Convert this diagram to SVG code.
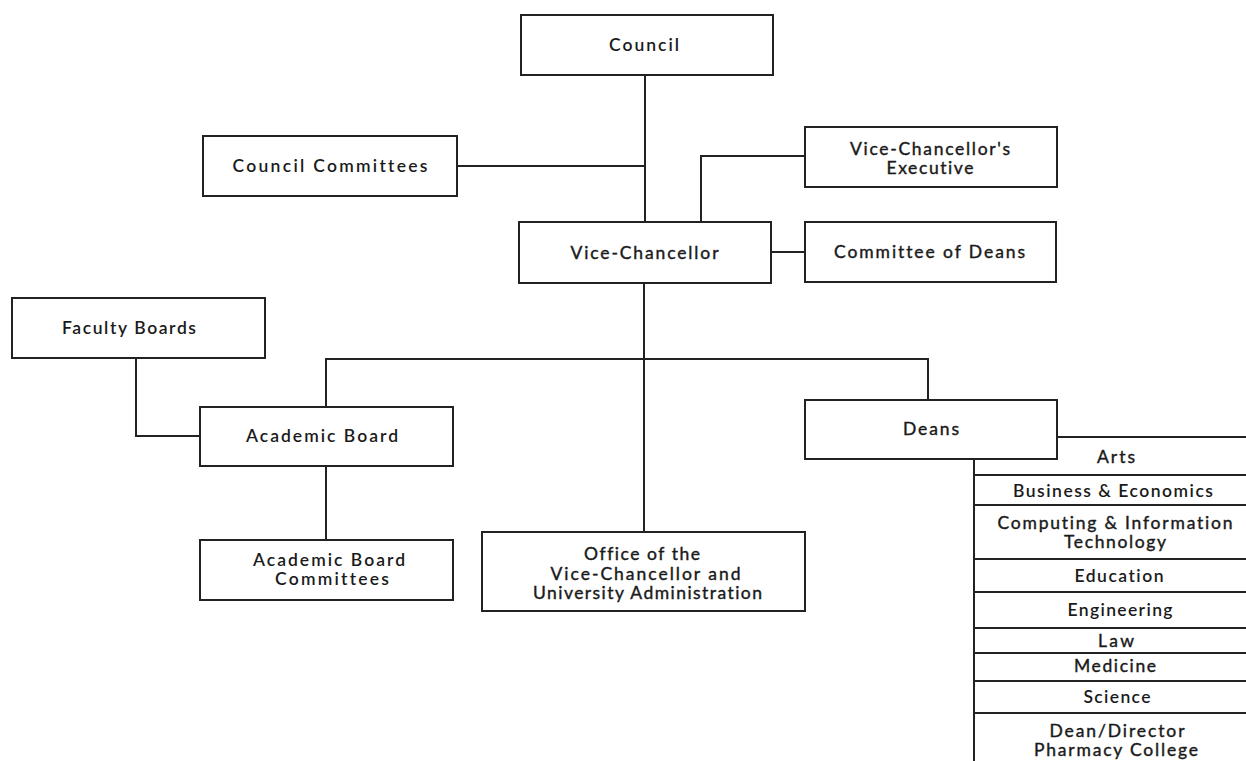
<svg xmlns="http://www.w3.org/2000/svg" width="1246" height="761" viewBox="0 0 1246 761">
<style>
.box{fill:#fff;stroke:#222;stroke-width:2}
.ln{fill:none;stroke:#222;stroke-width:2}
text{font-family:Lato,"Liberation Sans",sans-serif;font-size:17.5px;fill:#1a1a1a;text-anchor:middle;font-weight:600;font-variant-ligatures:none}
.n{font-weight:normal;stroke:#1a1a1a;stroke-width:0.4}
</style>
<rect width="1246" height="761" fill="#fff"/>
<g id="connectors">
<path class="ln" d="M645 75V222"/>
<path class="ln" d="M457 166H645"/>
<path class="ln" d="M701 222V156H806"/>
<path class="ln" d="M772 252H806"/>
<path class="ln" d="M644 283V532"/>
<path class="ln" d="M326 406V359H928V400"/>
<path class="ln" d="M136 358V436H200"/>
<path class="ln" d="M326 466V540"/>
<path class="ln" d="M974 459V761"/>
<path class="ln" d="M1057 437H1246"/>
</g>
<g id="council"><rect class="box" x="521" y="15" width="252" height="60"/><text x="644" y="51" textLength="70" lengthAdjust="spacing">Council</text></g>
<g id="council-committees"><rect class="box" x="203" y="136" width="254" height="60"/><text x="330" y="172" textLength="195" lengthAdjust="spacing">Council Committees</text></g>
<g id="vc-executive"><rect class="box" x="805" y="127" width="252" height="60"/><text class="n" x="930" y="155" textLength="160" lengthAdjust="spacing">Vice-Chancellor's</text><text class="n" x="930" y="174" textLength="87" lengthAdjust="spacing">Executive</text></g>
<g id="vice-chancellor"><rect class="box" x="519" y="222" width="252" height="61"/><text class="n" x="644.5" y="259" textLength="148" lengthAdjust="spacing">Vice-Chancellor</text></g>
<g id="committee-of-deans"><rect class="box" x="805" y="222" width="251" height="60"/><text class="n" x="929.5" y="258" textLength="191" lengthAdjust="spacing">Committee of Deans</text></g>
<g id="faculty-boards"><rect class="box" x="12" y="298" width="253" height="60"/><text x="129" y="334" textLength="134" lengthAdjust="spacing">Faculty Boards</text></g>
<g id="academic-board"><rect class="box" x="200" y="407" width="253" height="59"/><text x="322" y="442" textLength="152" lengthAdjust="spacing">Academic Board</text></g>
<g id="academic-board-committees"><rect class="box" x="200" y="540" width="253" height="60"/><text x="329" y="566" textLength="152" lengthAdjust="spacing">Academic Board</text><text x="332" y="585" textLength="114" lengthAdjust="spacing">Committees</text></g>
<g id="office"><rect class="box" x="482" y="532" width="323" height="79"/><text class="n" x="642" y="560" textLength="116" lengthAdjust="spacing">Office of the</text><text class="n" x="645.5" y="579.5" textLength="190" lengthAdjust="spacing">Vice-Chancellor and</text><text class="n" x="647.5" y="598.5" textLength="229" lengthAdjust="spacing">University Administration</text></g>
<g id="deans"><rect class="box" x="805" y="400" width="252" height="59"/><text class="n" x="931" y="435" textLength="56" lengthAdjust="spacing">Deans</text></g>
<g id="faculties">
<path class="ln" d="M974 475H1246M974 505H1246M974 559H1246M974 592H1246M974 628H1246M974 653H1246M974 681H1246M974 713H1246"/>
<text class="n" x="1116" y="463" textLength="38" lengthAdjust="spacing">Arts</text>
<text x="1113" y="497" textLength="200" lengthAdjust="spacing">Business &amp; Economics</text>
<text class="n" x="1115" y="529" textLength="235" lengthAdjust="spacing">Computing &amp; Information</text>
<text class="n" x="1115" y="548" textLength="102" lengthAdjust="spacing">Technology</text>
<text x="1119" y="582" textLength="89" lengthAdjust="spacing">Education</text>
<text x="1120" y="616" textLength="105" lengthAdjust="spacing">Engineering</text>
<text class="n" x="1116" y="647" textLength="36" lengthAdjust="spacing">Law</text>
<text class="n" x="1115" y="672" textLength="82" lengthAdjust="spacing">Medicine</text>
<text x="1117" y="703" textLength="67" lengthAdjust="spacing">Science</text>
<text class="n" x="1117" y="737" textLength="135" lengthAdjust="spacing">Dean/Director</text>
<text class="n" x="1116" y="756" textLength="164" lengthAdjust="spacing">Pharmacy College</text>
</g>
</svg>
